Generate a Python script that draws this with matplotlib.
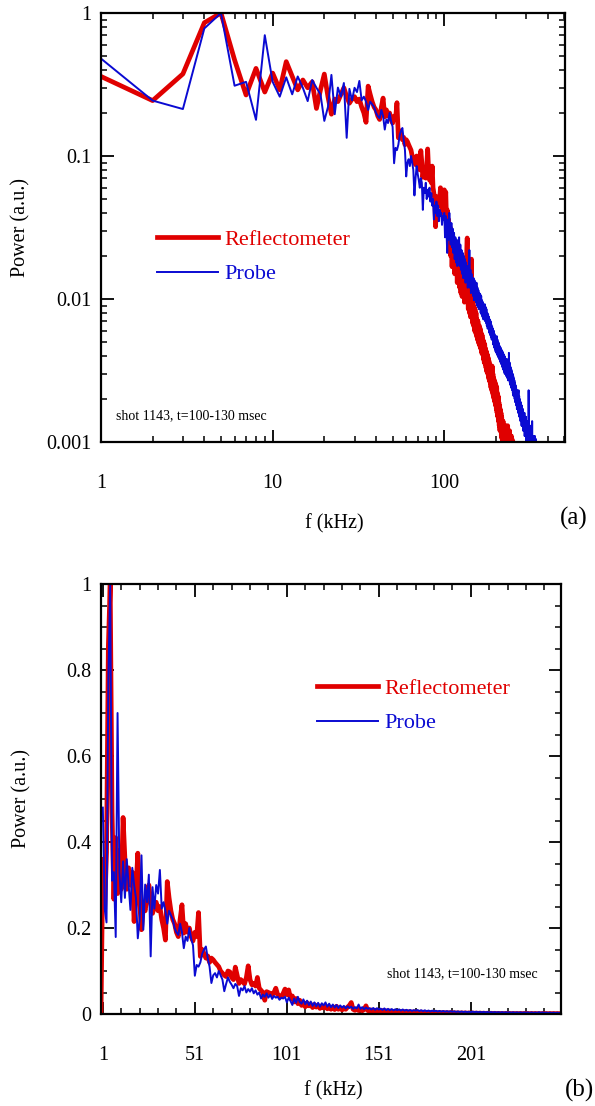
import numpy as np
import matplotlib
matplotlib.use("Agg")
import matplotlib.pyplot as plt
from matplotlib.ticker import FixedLocator, NullFormatter, LogLocator, MultipleLocator

# ---------------- data (power spectra, 1 kHz resolution) ----------------
# Reflectometer, f = 0 .. 265 kHz
reflectometer = [
    0.0, 0.36, 0.244, 0.375, 0.855, 1.0, 0.47, 0.267, 0.41, 0.28,
    0.38, 0.29, 0.457, 0.36, 0.29, 0.34, 0.30, 0.33, 0.215, 0.29,
    0.374, 0.26, 0.196, 0.25, 0.24, 0.27, 0.30, 0.26, 0.234, 0.25,
    0.26, 0.24, 0.25, 0.22, 0.20, 0.172, 0.308, 0.27, 0.24, 0.22,
    0.21, 0.19, 0.18, 0.22, 0.254, 0.188, 0.21, 0.19, 0.20, 0.18,
    0.17, 0.19, 0.18, 0.236, 0.134, 0.15, 0.14, 0.13, 0.135, 0.12,
    0.13, 0.126, 0.12, 0.115, 0.11, 0.10, 0.095, 0.09, 0.087, 0.10,
    0.098, 0.085, 0.08, 0.109, 0.09, 0.071, 0.08, 0.075, 0.07, 0.085,
    0.112, 0.08, 0.068, 0.071, 0.065, 0.085, 0.06, 0.055, 0.05, 0.032,
    0.052, 0.05, 0.048, 0.045, 0.05, 0.06, 0.045, 0.042, 0.04, 0.048,
    0.058, 0.045, 0.056, 0.036, 0.042, 0.028, 0.036, 0.024, 0.032, 0.02,
    0.027, 0.0168, 0.026, 0.019, 0.023, 0.015, 0.022, 0.016, 0.02, 0.013,
    0.019, 0.014, 0.018, 0.012, 0.017, 0.011, 0.016, 0.0104, 0.018, 0.011,
    0.014, 0.0095, 0.013, 0.011, 0.016, 0.02, 0.0267, 0.011, 0.0085, 0.012,
    0.008, 0.011, 0.0075, 0.0105, 0.019, 0.008, 0.0068, 0.0095, 0.0065, 0.0088,
    0.006, 0.0085, 0.0058, 0.008, 0.0055, 0.0072, 0.0052, 0.007, 0.005, 0.0049,
    0.0065, 0.0047, 0.0062, 0.0045, 0.0058, 0.0042, 0.0056, 0.0041, 0.0052, 0.0038,
    0.005, 0.0036, 0.0048, 0.0035, 0.0045, 0.0033, 0.0043, 0.0031, 0.0041, 0.003,
    0.0039, 0.0028, 0.0037, 0.0027, 0.0035, 0.0026, 0.0034, 0.0024, 0.0033, 0.0023,
    0.0034, 0.0022, 0.003, 0.0021, 0.0028, 0.002, 0.0027, 0.0019, 0.0026, 0.0018,
    0.0025, 0.0017, 0.0024, 0.0016, 0.0022, 0.0015, 0.0021, 0.0014, 0.0019, 0.0013,
    0.0018, 0.0012, 0.0017, 0.0012, 0.0016, 0.0011, 0.0015, 0.00105, 0.0014, 0.001,
    0.0014, 0.00095, 0.0013, 0.0009, 0.0013, 0.00092, 0.0012, 0.0009, 0.0013, 0.00088,
    0.0012, 0.00087, 0.0012, 0.00085, 0.0013, 0.00088, 0.0012, 0.00085, 0.0011, 0.00083,
    0.0012, 0.00082, 0.0011, 0.0008, 0.0011, 0.00082, 0.0011, 0.0008, 0.00105, 0.00078,
    0.001, 0.00078, 0.001, 0.00075, 0.00098, 0.00075, 0.00095, 0.00072, 0.0009, 0.0007,
    0.00088, 0.0007, 0.00085, 0.00068, 0.0008, 0.00065,
]
freq_reflectometer = np.arange(0, len(reflectometer))  # kHz

# Probe, f = 1 .. 380 kHz
probe = [
    0.48, 0.244, 0.213, 0.78, 1.0, 0.31, 0.33, 0.179, 0.70, 0.33,
    0.26, 0.355, 0.27, 0.36, 0.30, 0.242, 0.34, 0.30, 0.27, 0.176,
    0.22, 0.369, 0.196, 0.301, 0.26, 0.324, 0.134, 0.295, 0.245, 0.30,
    0.28, 0.335, 0.245, 0.26, 0.24, 0.21, 0.24, 0.23, 0.22, 0.20,
    0.19, 0.184, 0.21, 0.19, 0.153, 0.18, 0.17, 0.2, 0.175, 0.16,
    0.089, 0.114, 0.11, 0.12, 0.14, 0.15, 0.157, 0.13, 0.11, 0.072,
    0.09, 0.095, 0.085, 0.1, 0.09, 0.08, 0.053, 0.07, 0.085, 0.075,
    0.068, 0.06, 0.07, 0.065, 0.042, 0.06, 0.055, 0.065, 0.05, 0.058,
    0.052, 0.06, 0.048, 0.055, 0.045, 0.05, 0.036, 0.045, 0.04, 0.048,
    0.038, 0.045, 0.035, 0.042, 0.038, 0.04, 0.033, 0.038, 0.036, 0.04,
    0.027, 0.038, 0.03, 0.021, 0.036, 0.026, 0.04, 0.028, 0.024, 0.034,
    0.023, 0.031, 0.021, 0.029, 0.019, 0.027, 0.018, 0.026, 0.017, 0.025,
    0.02, 0.027, 0.017, 0.024, 0.016, 0.022, 0.015, 0.021, 0.014, 0.02,
    0.015, 0.019, 0.013, 0.018, 0.014, 0.017, 0.012, 0.016, 0.013, 0.022,
    0.012, 0.016, 0.011, 0.015, 0.012, 0.0137, 0.0105, 0.014, 0.0098, 0.0135,
    0.0105, 0.0125, 0.0095, 0.013, 0.009, 0.012, 0.0088, 0.0115, 0.0085, 0.011,
    0.0088, 0.0108, 0.008, 0.0105, 0.0078, 0.0098, 0.0075, 0.0095, 0.0072, 0.009,
    0.0078, 0.0092, 0.007, 0.0088, 0.0068, 0.0085, 0.0065, 0.008, 0.0062, 0.0078,
    0.0064, 0.0075, 0.0058, 0.0072, 0.0056, 0.007, 0.0054, 0.0066, 0.0052, 0.0064,
    0.0052, 0.0062, 0.0048, 0.006, 0.0046, 0.0057, 0.0045, 0.0055, 0.0043, 0.0052,
    0.0042, 0.0055, 0.0041, 0.0052, 0.004, 0.005, 0.0039, 0.0049, 0.0038, 0.0047,
    0.0037, 0.0046, 0.0036, 0.0045, 0.0035, 0.0044, 0.0034, 0.0043, 0.0033, 0.0042,
    0.0032, 0.0041, 0.0031, 0.004, 0.003, 0.0039, 0.003, 0.0038, 0.0029, 0.0037,
    0.0029, 0.0038, 0.0028, 0.0037, 0.0027, 0.0036, 0.0027, 0.0042, 0.0028, 0.0036,
    0.0026, 0.0034, 0.0025, 0.0033, 0.0024, 0.0032, 0.0024, 0.0031, 0.0023, 0.003,
    0.0022, 0.0029, 0.0021, 0.0028, 0.0021, 0.0027, 0.002, 0.0026, 0.0019, 0.0025,
    0.0019, 0.0024, 0.0018, 0.0023, 0.0017, 0.0023, 0.0017, 0.0022, 0.0016, 0.0022,
    0.0023, 0.0016, 0.0021, 0.0015, 0.002, 0.0015, 0.0019, 0.0014, 0.0019, 0.0014,
    0.0018, 0.0013, 0.0018, 0.0013, 0.0017, 0.0013, 0.0017, 0.0012, 0.0016, 0.0012,
    0.0016, 0.0012, 0.0016, 0.0011, 0.0015, 0.0011, 0.0015, 0.0011, 0.0015, 0.001,
    0.0014, 0.001, 0.0014, 0.001, 0.0013, 0.001, 0.0014, 0.00095, 0.0013, 0.0023,
    0.0013, 0.00095, 0.0013, 0.00092, 0.0012, 0.0009, 0.0013, 0.00088, 0.0012, 0.00088,
    0.0012, 0.00085, 0.0012, 0.00085, 0.0014, 0.00082, 0.0011, 0.0008, 0.0011, 0.0008,
    0.0011, 0.0008, 0.0011, 0.00078, 0.0011, 0.00076, 0.0011, 0.00078, 0.00105, 0.00075,
    0.00105, 0.0009, 0.001, 0.00088, 0.001, 0.00087, 0.001, 0.00085, 0.00098, 0.00085,
    0.00095, 0.00083, 0.00097, 0.00082, 0.00096, 0.0008, 0.00094, 0.0008, 0.00092, 0.00078,
    0.0009, 0.00078, 0.0009, 0.00075, 0.00088, 0.00075, 0.00086, 0.00072, 0.00085, 0.0007,
    0.00085, 0.00072, 0.0008, 0.0007, 0.00078, 0.00068, 0.00075, 0.00065, 0.0007, 0.0006,
]
freq_probe = np.arange(1, len(probe) + 1)  # kHz

series_labels = ["Reflectometer", "Probe"]
annotation = "shot 1143, t=100-130 msec"
log_xticks = [1, 10, 100]
log_xticklabels = ["1", "10", "100"]
log_yticks = [0.001, 0.01, 0.1, 1]
log_yticklabels = ["0.001", "0.01", "0.1", "1"]
lin_xticks = [1, 51, 101, 151, 201]
lin_xticklabels = ["1", "51", "101", "151", "201"]
lin_yticks = [0, 0.2, 0.4, 0.6, 0.8, 1.0]
lin_yticklabels = ["0", "0.2", "0.4", "0.6", "0.8", "1"]

# ---------------- style ----------------
RED = "#e00000"
BLUE = "#0a0ad2"
plt.rcParams["font.family"] = ["Liberation Serif", "DejaVu Serif"]
TICK_FS = 14.5
LAB_FS = 14.5
LEG_FS = 16

fig = plt.figure(figsize=(5.95, 11.06), dpi=100)
W, H = 595.0, 1106.0


def style_axes(ax):
    for s in ax.spines.values():
        s.set_linewidth(1.6)
        s.set_color("black")
    ax.tick_params(which="both", direction="in", top=True, right=True,
                   colors="black", labelsize=TICK_FS)
    ax.tick_params(which="major", length=9, width=1.3)
    ax.tick_params(which="minor", length=4.5, width=1.1)
    ax.tick_params(axis="x", which="both", pad=23)
    ax.tick_params(axis="y", which="both", pad=7)


# ---------------- (a) log-log ----------------
ax1 = fig.add_axes([101 / W, 1 - 442 / H, 464 / W, 429 / H])
r_line, = ax1.plot(freq_reflectometer[1:], reflectometer[1:], color=RED, lw=3.4,
                   label=series_labels[0])
p_line, = ax1.plot(freq_probe, probe, color=BLUE, lw=1.4, label=series_labels[1])
ax1.set_xscale("log")
ax1.set_yscale("log")
ax1.set_xlim(1, 505)
ax1.set_ylim(0.001, 1)
ax1.xaxis.set_major_locator(FixedLocator(log_xticks))
ax1.set_xticklabels(log_xticklabels)
ax1.xaxis.set_minor_locator(LogLocator(base=10, subs=np.arange(2, 10)))
ax1.xaxis.set_minor_formatter(NullFormatter())
ax1.yaxis.set_major_locator(FixedLocator(log_yticks))
ax1.set_yticklabels(log_yticklabels)
ax1.yaxis.set_minor_locator(LogLocator(base=10, subs=np.arange(2, 10)))
ax1.yaxis.set_minor_formatter(NullFormatter())
style_axes(ax1)
ax1.set_xlabel("f (kHz)", fontsize=LAB_FS)
ax1.set_ylabel("Power (a.u.)", fontsize=LAB_FS)
ax1.yaxis.set_label_coords(-(101 - 30) / 464, 0.5)
ax1.xaxis.set_label_coords((334 - 101) / 464, -(514 - 442) / 429)
leg1 = ax1.legend(handles=[r_line, p_line], loc="center left",
                  bbox_to_anchor=((157 - 101) / 464, (442 - 257) / 429),
                  frameon=False, fontsize=LEG_FS, handlelength=2.75,
                  handletextpad=0.3, labelspacing=0.62, borderpad=0, borderaxespad=0)
for t, c in zip(leg1.get_texts(), [RED, BLUE]):
    t.set_color(c)
ax1.text((116 - 101) / 464, (442 - 416) / 429, annotation, transform=ax1.transAxes,
         fontsize=10, va="center", ha="left")
fig.text(574 / W, 1 - 518 / H, "(a)", fontsize=18, ha="center", va="center")

# ---------------- (b) linear ----------------
ax2 = fig.add_axes([101 / W, 1 - 1014 / H, 460 / W, 430 / H])
r2, = ax2.plot(freq_reflectometer, reflectometer, color=RED, lw=3.4,
               label=series_labels[0])
p2, = ax2.plot(freq_probe, probe, color=BLUE, lw=1.4, label=series_labels[1])
ax2.set_xlim(0, 250)
ax2.set_ylim(0, 1)
ax2.xaxis.set_major_locator(FixedLocator(lin_xticks))
ax2.set_xticklabels(lin_xticklabels)
ax2.xaxis.set_minor_locator(FixedLocator(np.arange(11, 250, 10)))
ax2.yaxis.set_major_locator(FixedLocator(lin_yticks))
ax2.set_yticklabels(lin_yticklabels)
ax2.yaxis.set_minor_locator(MultipleLocator(0.05))
style_axes(ax2)
ax2.set_xlabel("f (kHz)", fontsize=LAB_FS)
ax2.set_ylabel("Power (a.u.)", fontsize=LAB_FS)
ax2.yaxis.set_label_coords(-(101 - 31) / 460, 0.5)
ax2.xaxis.set_label_coords((333 - 101) / 460, -(1081 - 1014) / 430)
leg2 = ax2.legend(handles=[r2, p2], loc="center left",
                  bbox_to_anchor=((317 - 101) / 460, (1014 - 706) / 430),
                  frameon=False, fontsize=LEG_FS, handlelength=2.75,
                  handletextpad=0.3, labelspacing=0.62, borderpad=0, borderaxespad=0)
for t, c in zip(leg2.get_texts(), [RED, BLUE]):
    t.set_color(c)
ax2.text((387 - 101) / 460, (1014 - 974) / 430, annotation, transform=ax2.transAxes,
         fontsize=10, va="center", ha="left")
fig.text(580 / W, 1 - 1090 / H, "(b)", fontsize=18, ha="center", va="center")

fig.savefig("out.png", dpi=100)
